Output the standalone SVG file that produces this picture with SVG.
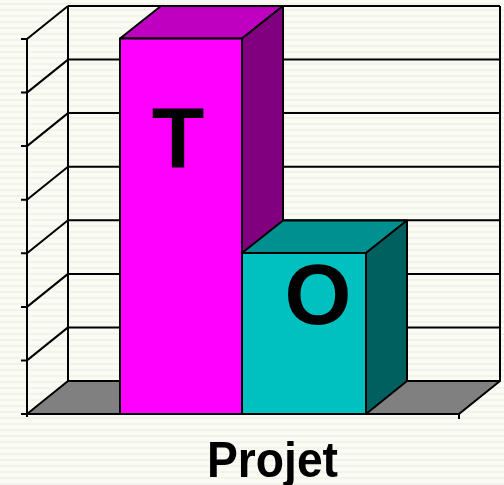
<svg xmlns="http://www.w3.org/2000/svg" width="504" height="485" viewBox="0 0 504 485">
<defs>
<pattern id="bg" width="8" height="6" patternUnits="userSpaceOnUse">
<rect width="8" height="6" fill="#fbfbf6"/>
<rect y="3" width="8" height="2" fill="#f3f3ea"/>
</pattern>
<style>
.ln{stroke:#000;stroke-width:2;fill:none}
.face{stroke:#000;stroke-width:2;stroke-linejoin:round}
.lbl{font-family:"Liberation Sans",Arial,sans-serif;font-weight:bold;fill:#000}
</style>
</defs>
<rect width="504" height="485" fill="url(#bg)"/>
<g id="axes">
<polygon class="face" points="27,414 68,381 500,381 459,414" fill="#808080"/>
<g class="ln">
<path d="M68,6V381M500,6V381"/>
<path d="M68,6H500M68,59.6H500M68,113.1H500M68,166.7H500M68,220.3H500M68,273.9H500M68,327.4H500"/>
<path d="M27,39L68,6M27,92.6L68,59.6M27,146.1L68,113.1M27,199.7L68,166.7M27,253.3L68,220.3M27,306.9L68,273.9M27,360.4L68,327.4"/>
<path d="M27,39V417"/>
<path d="M21,39H27M21,92.6H27M21,146.1H27M21,199.7H27M21,253.3H27M21,306.9H27M21,360.4H27M21,414H27"/>
<path d="M27,414H459V419"/>
</g>
</g>
<g id="bar-T">
<polygon class="face" points="120,38.5 161,6 283,6 242,38.5" fill="#c000c0"/>
<polygon class="face" points="242,38.5 283,6 283,381 242,414" fill="#800080"/>
<rect class="face" x="120" y="38.5" width="122" height="375.5" fill="#ff00ff"/>
<text class="lbl" x="178" y="167" font-size="86" text-anchor="middle">T</text>
</g>
<g id="bar-O">
<polygon class="face" points="242,253 283,220.5 407,220.5 366,253" fill="#009090"/>
<polygon class="face" points="366,253 407,220.5 407,381 366,414" fill="#006060"/>
<rect class="face" x="242" y="253" width="124" height="161" fill="#00c0c0"/>
<text class="lbl" x="318" y="324" font-size="86" text-anchor="middle">O</text>
</g>
<g id="xlabel">
<text class="lbl" x="207" y="477" font-size="50" textLength="131" lengthAdjust="spacingAndGlyphs">Projet</text>
</g>
</svg>
